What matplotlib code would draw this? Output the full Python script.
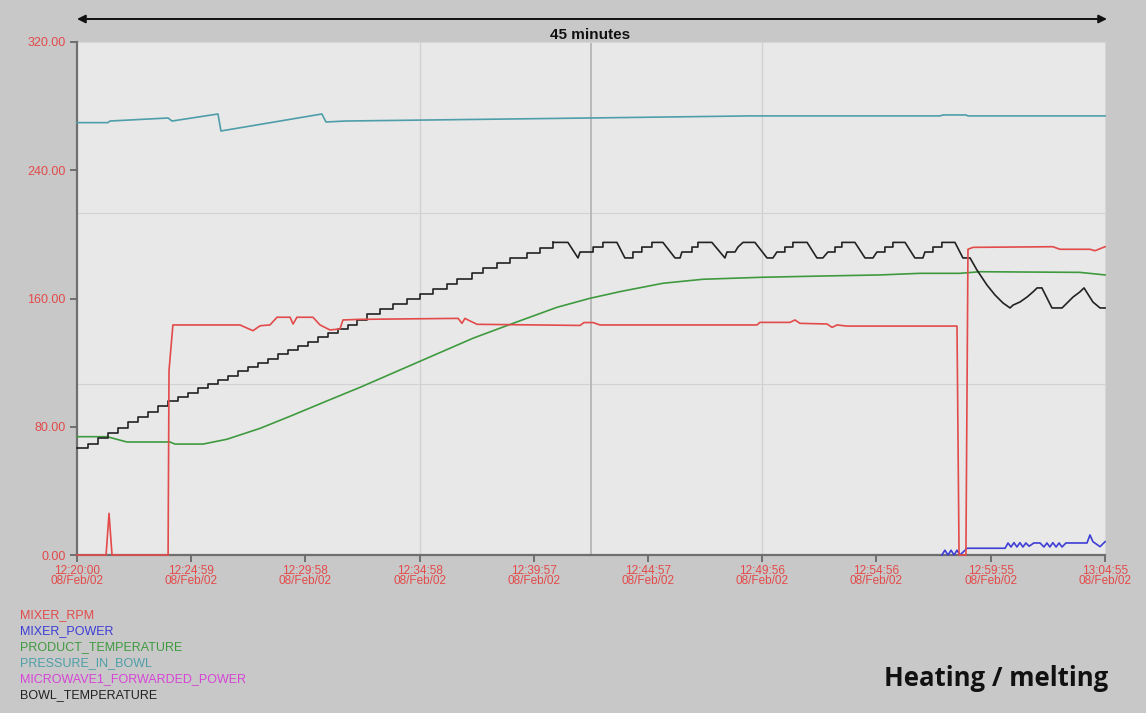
import matplotlib as mpl

mpl.use("Agg")

import matplotlib.pyplot as plt

# time axis is minutes since 12:20:00
TICK_MINUTES = [0.0, 4.983, 9.967, 14.967, 19.95, 24.95, 29.933, 34.933, 39.917, 44.917]
TICK_LABELS = ["12:20:00", "12:24:59", "12:29:58", "12:34:58", "12:39:57",
               "12:44:57", "12:49:56", "12:54:56", "12:59:55", "13:04:55"]
DATE_LABEL = "08/Feb/02"
Y_TICKS = [0, 80, 160, 240, 320]

# MIXER_RPM
rpm_t = [0.0, 1.27, 1.40, 1.53, 3.98, 4.02, 4.19, 7.12, 7.69, 8.00, 8.43, 8.74, 9.31, 9.44,
         9.61, 10.31, 10.62, 11.05, 11.49, 11.62, 12.37, 16.65, 16.82, 16.95, 17.17, 17.48,
         21.98, 22.15, 22.55, 22.85, 29.71, 29.84, 31.15, 31.37, 31.59, 32.77, 32.99, 33.21,
         33.64, 38.45, 38.54, 38.84, 38.93, 39.15, 42.64, 42.95, 44.26, 44.48, 44.92]
rpm_v = [0.0, 0.0, 26.0, 0.0, 0.0, 115.0, 143.5, 143.5, 139.9, 143.0, 143.5, 148.3, 148.3, 144.1,
         148.3, 148.3, 143.5, 140.4, 141.0, 146.6, 147.0, 147.6, 144.5, 147.6, 146.0, 143.9,
         143.2, 145.0, 145.0, 143.5, 143.5, 145.1, 145.1, 146.6, 144.5, 144.1, 142.0, 143.5,
         142.8, 142.8, 0.0, 0.0, 190.7, 191.9, 192.3, 190.7, 190.7, 189.8, 192.3]

# MIXER_POWER
power_t = [37.79, 37.92, 38.06, 38.19, 38.32, 38.45, 38.58, 38.89, 40.55, 40.68, 40.81, 40.94,
           41.07, 41.20, 41.33, 41.46, 41.60, 41.81, 42.08, 42.25, 42.38, 42.51, 42.64, 42.78,
           42.91, 43.04, 43.21, 43.61, 44.13, 44.26, 44.39, 44.70, 44.92]
power_v = [0.0, 3.0, 0.0, 3.0, 0.0, 3.0, 0.0, 4.2, 4.2, 7.5, 5.0, 7.7, 5.0, 7.7, 5.0, 7.5, 5.5,
           7.5, 7.5, 5.0, 7.5, 5.0, 7.7, 5.0, 7.5, 5.0, 7.5, 7.5, 7.5, 12.5, 8.3, 5.2, 8.3]

# PRODUCT_TEMPERATURE
product_t = [0.0, 1.31, 2.18, 4.06, 4.28, 5.51, 6.55, 8.00, 9.44, 10.92, 12.37, 17.30, 19.05,
             20.97, 22.41, 23.73, 25.60, 27.35, 29.84, 32.46, 35.09, 36.83, 38.58, 39.45,
             43.82, 44.92]
product_v = [73.8, 73.8, 70.5, 70.5, 69.2, 69.2, 72.2, 79.0, 87.3, 96.1, 104.6, 135.2, 144.5,
             154.5, 160.1, 164.3, 169.5, 172.0, 173.2, 174.0, 174.7, 175.7, 175.7, 176.7,
             176.3, 174.7]

# PRESSURE_IN_BOWL
pressure_t = [0.0, 1.35, 1.44, 3.98, 4.15, 6.16, 6.29, 10.70, 10.88, 11.71, 22.41, 29.41,
              37.71, 37.84, 38.84, 38.93, 44.92]
pressure_v = [269.7, 269.7, 270.7, 272.6, 270.7, 275.1, 264.5, 275.1, 270.1, 270.7, 272.6,
              273.9, 273.9, 274.5, 274.5, 273.9, 273.9]

# BOWL_TEMPERATURE: stepped warm-up, then regulated oscillation
bowl_step_t = [0.0, 0.48, 0.92, 1.35, 1.79, 2.23, 2.67, 3.10, 3.54, 3.98, 4.41, 4.85, 5.29,
               5.72, 6.16, 6.60, 7.03, 7.47, 7.91, 8.35, 8.78, 9.22, 9.66, 10.09, 10.53,
               10.97, 11.40, 11.84, 12.23, 12.67, 13.24, 13.81, 14.42, 14.99, 15.55, 16.17,
               16.60, 17.26, 17.74, 18.35, 18.92, 19.66, 20.23, 20.80]
bowl_step_v = [66.5, 69.5, 73.0, 76.0, 79.5, 83.0, 86.0, 89.5, 93.0, 96.0, 98.6, 101.2, 103.9,
               106.5, 109.2, 111.8, 114.5, 117.1, 119.8, 122.4, 125.1, 127.7, 130.4, 133.0,
               135.7, 138.3, 141.0, 143.5, 146.6, 150.1, 153.2, 156.4, 159.5, 162.6, 165.7,
               168.9, 172.0, 175.7, 178.9, 182.0, 185.2, 188.3, 191.4, 195.0]
bowl_t = [20.80, 21.45, 21.89, 21.98, 22.55, 22.55, 22.98, 22.98, 23.59, 23.94, 24.29, 24.29,
          24.68, 24.68, 25.12, 25.12, 25.60, 26.13, 26.35, 26.43, 26.87, 26.87, 27.13, 27.13,
          27.74, 28.31, 28.40, 28.75, 28.88, 29.10, 29.62, 30.15, 30.41, 30.58, 30.93, 30.93,
          31.28, 31.28, 31.90, 32.33, 32.59, 32.81, 33.12, 33.12, 33.42, 33.42, 33.99, 34.43,
          34.78, 34.95, 35.30, 35.30, 35.65, 35.65, 36.18, 36.61, 36.96, 37.05, 37.40, 37.40,
          37.79, 37.79, 38.36, 38.71, 39.02, 39.32, 39.76, 40.11, 40.46, 40.77, 40.90, 41.20,
          41.51, 41.77, 41.95, 42.16, 42.60, 43.04, 43.26, 43.52, 43.82, 44.00, 44.39, 44.70,
          44.92]
bowl_v = [195.0, 195.0, 185.3, 189.0, 189.0, 192.1, 192.1, 195.0, 195.0, 185.3, 185.3, 189.0,
          189.0, 192.1, 192.1, 195.0, 195.0, 185.3, 185.3, 189.0, 189.0, 192.1, 192.1, 195.0,
          195.0, 185.3, 189.0, 189.0, 192.1, 195.0, 195.0, 185.3, 185.3, 189.0, 189.0, 192.1,
          192.1, 195.0, 195.0, 185.3, 185.3, 189.0, 189.0, 192.1, 192.1, 195.0, 195.0, 185.3,
          185.3, 189.0, 189.0, 192.1, 192.1, 195.0, 195.0, 185.3, 185.3, 189.0, 189.0, 192.1,
          192.1, 195.0, 195.0, 185.3, 185.3, 177.8, 168.4, 162.2, 157.2, 154.1, 155.9, 157.8,
          160.9, 164.1, 166.6, 166.6, 154.1, 154.1, 157.2, 160.9, 164.1, 166.6, 157.8, 154.1,
          154.1]

SERIES_NAMES = ["MIXER_RPM", "MIXER_POWER", "PRODUCT_TEMPERATURE", "PRESSURE_IN_BOWL",
                "MICROWAVE1_FORWARDED_POWER", "BOWL_TEMPERATURE"]
SERIES_COLORS = ["#e34a4a", "#3d3dd6", "#3f9a3f", "#4e9ea9", "#d645d6", "#222222"]

RED, BLUE, GREEN, TEAL, MAGENTA, BLACK = SERIES_COLORS
AXIS_GRAY = "#6f6f6f"
FONT = "Liberation Sans"

fig = plt.figure(figsize=(11.46, 7.13), dpi=100, facecolor="#c8c8c8")
ax = fig.add_axes([77 / 1146, 158 / 713, 1028 / 1146, 513 / 713], facecolor="#e8e8e8")

x_end = TICK_MINUTES[-1]
ax.set_xlim(0, x_end)
ax.set_ylim(0, 320)

# 3x3 grid plus the centre cursor line
for frac in (1 / 3, 2 / 3):
    ax.axhline(320 * frac, color="#d2d2d2", lw=0.8, zorder=1)
    ax.axvline(x_end * frac, color="#d0d0d0", lw=0.9, zorder=1)
ax.axvline(x_end / 2, color="#b9b9b9", lw=1.4, zorder=1)

line_kw = dict(lw=1.2, clip_on=False, zorder=4)
ax.plot(pressure_t, pressure_v, color=TEAL, **line_kw)
ax.plot(product_t, product_v, color=GREEN, **line_kw)
ax.plot(bowl_step_t, bowl_step_v, color=BLACK, drawstyle="steps-post", **line_kw)
ax.plot(bowl_t, bowl_v, color=BLACK, **line_kw)
ax.plot(power_t, power_v, color=BLUE, **line_kw)
ax.plot(rpm_t, rpm_v, color=RED, **line_kw)

for side in ("left", "bottom"):
    ax.spines[side].set_color(AXIS_GRAY)
    ax.spines[side].set_linewidth(1.6)
    ax.spines[side].set_zorder(3)
for side in ("top", "right"):
    ax.spines[side].set_color("#d6d6d6")
    ax.spines[side].set_linewidth(0.8)

ax.set_yticks(Y_TICKS)
ax.set_yticklabels([f"{v:.2f}" for v in Y_TICKS])
ax.set_xticks(TICK_MINUTES)
ax.set_xticklabels([f"{lab}\n{DATE_LABEL}" for lab in TICK_LABELS], linespacing=0.82)
ax.tick_params(axis="both", direction="out", length=5, width=1.4, color=AXIS_GRAY,
               labelcolor=RED, labelsize=8.5, pad=2)
ax.tick_params(axis="y", labelsize=9, pad=3)
for lab in ax.get_xticklabels() + ax.get_yticklabels():
    lab.set_fontfamily(FONT)

# span arrow and caption above the plot
ax.annotate("", xy=(1107 / 1146, 1 - 19 / 713), xytext=(77 / 1146, 1 - 19 / 713),
            xycoords="figure fraction", textcoords="figure fraction",
            arrowprops=dict(arrowstyle="<|-|>", color="#111111", lw=1.4,
                            mutation_scale=12, shrinkA=0, shrinkB=0))
fig.text(590 / 1146, 1 - 35 / 713, "45 minutes", ha="center", va="center",
         fontsize=11, fontweight="bold", color="#111111", family=FONT)

# series names listed under the chart
for i, (name, color) in enumerate(zip(SERIES_NAMES, SERIES_COLORS)):
    fig.text(20 / 1146, 1 - (615 + 16 * i) / 713, name, ha="left", va="center",
             fontsize=9, color=color, family=FONT)

fig.text(1108 / 1146, 1 - 678 / 713, "Heating / melting", ha="right", va="center",
         fontsize=18.5, fontweight="bold", color="#111111", family="Open Sans")

fig.savefig("out.png", dpi=100, facecolor=fig.get_facecolor())
